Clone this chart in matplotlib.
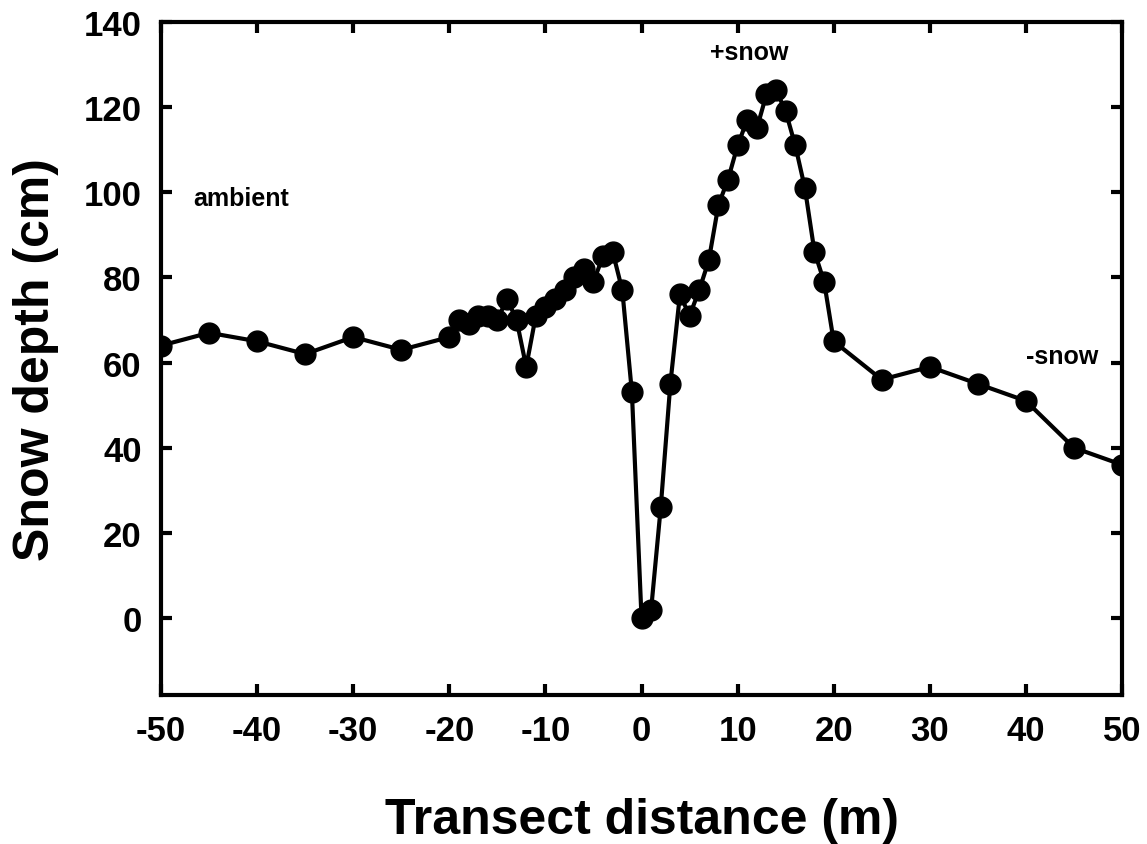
import matplotlib
matplotlib.use("Agg")
import matplotlib.pyplot as plt

# 样线距离 (m) 和雪深 (cm)
distance = [-50, -45, -40, -35, -30, -25, -20, -19, -18, -17, -16, -15, -14, -13, -12,
            -11, -10, -9, -8, -7, -6, -5, -4, -3, -2, -1, 0, 1, 2, 3, 4, 5, 6, 7, 8,
            9, 10, 11, 12, 13, 14, 15, 16, 17, 18, 19, 20, 25, 30, 35, 40, 45, 50]
snow_depth = [64, 67, 65, 62, 66, 63, 66, 70, 69, 71, 71, 70, 75, 70, 59,
              71, 73, 75, 77, 80, 82, 79, 85, 86, 77, 53, 0, 2, 26, 55, 76, 71, 77, 84, 97,
              103, 111, 117, 115, 123, 124, 119, 111, 101, 86, 79, 65, 56, 59, 55, 51, 40, 36]
x_ticks = [-50, -40, -30, -20, -10, 0, 10, 20, 30, 40, 50]
y_ticks = [0, 20, 40, 60, 80, 100, 120, 140]

plt.rcParams['font.family'] = ['Liberation Sans', 'DejaVu Sans']
plt.rcParams['font.weight'] = 'bold'
plt.rcParams['axes.unicode_minus'] = False

fig = plt.figure(figsize=(11.47, 8.45), dpi=100)
ax = fig.add_axes([0.1404, 0.1767, 0.8378, 0.7961])
ax.plot(distance, snow_depth, color='black', linewidth=3, marker='o', markersize=15)

ax.set_xlim(-50, 50)
ax.set_ylim(-18, 140)
ax.set_xticks(x_ticks)
ax.set_yticks(y_ticks)
ax.tick_params(direction='in', length=8, width=3, labelsize=25, pad=14,
               top=True, right=True)
for s in ax.spines.values():
    s.set_linewidth(3)

ax.set_xlabel("Transect distance (m)", fontsize=36, fontweight='bold', labelpad=36)
ax.set_ylabel("Snow depth (cm)", fontsize=36, fontweight='bold', labelpad=18)

# 标注
ax.text(-41.7, 98.7, "ambient", fontsize=18, fontweight='bold', ha='center', va='center')
ax.text(11.2, 133, "+snow", fontsize=18, fontweight='bold', ha='center', va='center')
ax.text(43.8, 61.6, "-snow", fontsize=18, fontweight='bold', ha='center', va='center')

fig.savefig("out.png", dpi=100)
